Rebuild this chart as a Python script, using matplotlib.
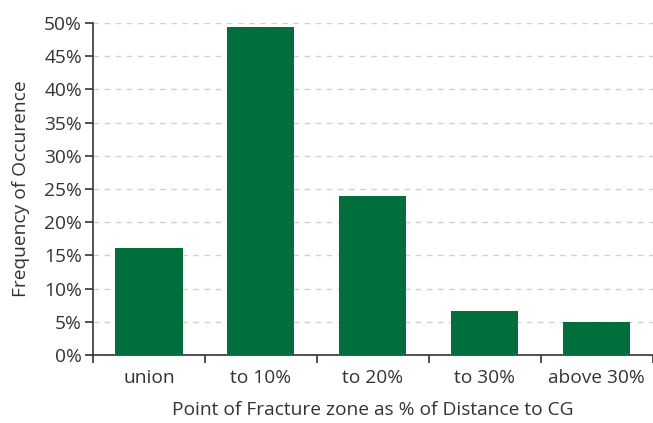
import matplotlib
matplotlib.use("Agg")
import matplotlib.pyplot as plt
from matplotlib.ticker import PercentFormatter, FixedLocator

categories = ["union", "to 10%", "to 20%", "to 30%", "above 30%"]
frequency = [16.1, 49.4, 23.9, 6.6, 5.0]
y_ticks = [0, 5, 10, 15, 20, 25, 30, 35, 40, 45, 50]

plt.rcParams['font.family'] = ['Open Sans', 'DejaVu Sans']
fs = 13.8

fig = plt.figure(figsize=(6.53, 4.23), dpi=100)
ax = fig.add_axes([0.1424, 0.1608, 0.857, 0.7848])

x = range(len(categories))
ax.bar(x, frequency, width=0.6, color="#006f3c", zorder=3)

ax.set_xlim(-0.5, len(categories) - 0.5)
ax.set_ylim(0, 50)
ax.set_yticks(y_ticks)
ax.yaxis.set_major_formatter(PercentFormatter(decimals=0))
ax.yaxis.grid(True, linestyle=(0, (4, 4)), color="#d0d0d0", linewidth=1, zorder=0)

ax.set_xticks(list(x))
ax.set_xticklabels(categories)
ax.xaxis.set_minor_locator(FixedLocator([i - 0.5 for i in range(len(categories) + 1)]))
ax.tick_params(axis="x", which="major", length=0, pad=10, labelsize=fs, colors="#333333")
ax.tick_params(axis="x", which="minor", length=6, width=1.2, color="#333333")
ax.tick_params(axis="y", length=6, width=1.2, labelsize=fs, colors="#333333", pad=2)

for side in ["top", "right"]:
    ax.spines[side].set_visible(False)
for side in ["left", "bottom"]:
    ax.spines[side].set_color("#333333")
    ax.spines[side].set_linewidth(1.2)

ax.set_xlabel("Point of Fracture zone as % of Distance to CG", fontsize=fs, color="#333333", labelpad=10)
ax.set_ylabel("Frequency of Occurence", fontsize=fs, color="#333333", labelpad=10)

fig.savefig("out.png", dpi=100)
